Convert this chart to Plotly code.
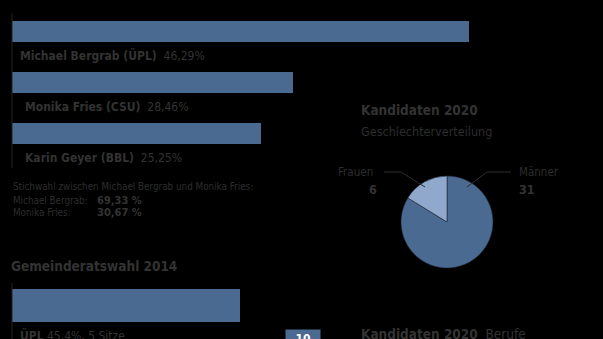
import plotly.graph_objects as go

# ---- data ----
candidates = ["Michael Bergrab (ÜPL)", "Monika Fries (CSU)", "Karin Geyer (BBL)"]
cand_values = [46.29, 28.46, 25.25]
cand_value_labels = ["46,29%", "28,46%", "25,25%"]

runoff_names = ["Michael Bergrab:", "Monika Fries:"]
runoff_values = ["69,33 %", "30,67 %"]

parties_2014 = ["ÜPL"]
party_values_2014 = [45.4]
party_labels_2014 = ["ÜPL 45,4%, 5 Sitze"]
seats_total = ["10"]

gender_labels = ["Männer", "Frauen"]
gender_values = [31, 6]

# ---- styles ----
BAR = "#4b6a91"
LIGHT = "#8fa8cb"
TXT = "#333333"
TXT2 = "#2d2d2d"
FONT = "DejaVu Sans Condensed, Liberation Sans Narrow, Roboto, sans-serif"
W, H = 603, 339


def px(x):
    return x / W


def py(y):
    return 1 - y / H


fig = go.Figure()

fig.add_trace(go.Bar(
    x=cand_values, y=candidates, orientation="h",
    marker=dict(color=BAR, line=dict(width=0)), width=0.41,
    xaxis="x", yaxis="y", hoverinfo="skip", showlegend=False))

fig.add_trace(go.Bar(
    x=party_values_2014, y=parties_2014, orientation="h",
    marker=dict(color=BAR, line=dict(width=0)), width=0.8,
    xaxis="x2", yaxis="y2", hoverinfo="skip", showlegend=False))

fig.add_trace(go.Pie(
    labels=gender_labels, values=gender_values, sort=False,
    direction="clockwise", rotation=0, textinfo="none",
    marker=dict(colors=[BAR, LIGHT], line=dict(color="#1b2636", width=0.6)),
    domain=dict(x=[px(401), px(493)], y=[py(268), py(176)]),
    hoverinfo="skip", showlegend=False))

annotations = []
# candidate labels
xshifts = [6, 11, 11]
for name, lab, xs in zip(candidates, cand_value_labels, xshifts):
    annotations.append(dict(
        x=0, y=name, xref="x", yref="y", xanchor="left", yanchor="middle",
        xshift=xs, yshift=-24, showarrow=False,
        text=f"<b>{name}</b>  {lab}",
        font=dict(family=FONT, size=12, color=TXT)))

annotations.append(dict(
    x=px(11), y=py(186), xref="paper", yref="paper", xanchor="left", yanchor="middle",
    showarrow=False, text="Stichwahl zwischen Michael Bergrab und Monika Fries:",
    font=dict(family=FONT, size=9.8, color=TXT2)))
for i, (n, v) in enumerate(zip(runoff_names, runoff_values)):
    yy = 200 + i * 12
    annotations.append(dict(
        x=px(11), y=py(yy), xref="paper", yref="paper", xanchor="left", yanchor="middle",
        showarrow=False, text=n, font=dict(family=FONT, size=9.8, color=TXT2)))
    annotations.append(dict(
        x=px(95), y=py(yy), xref="paper", yref="paper", xanchor="left", yanchor="middle",
        showarrow=False, text=f"<b>{v}</b>", font=dict(family=FONT, size=11, color=TXT)))

annotations.append(dict(
    x=px(9), y=py(266), xref="paper", yref="paper", xanchor="left", yanchor="middle",
    showarrow=False, text="<b>Gemeinderatswahl 2014</b>",
    font=dict(family=FONT, size=13.5, color=TXT)))

for p, lab in zip(parties_2014, party_labels_2014):
    annotations.append(dict(
        x=0, y=p, xref="x2", yref="y2", xanchor="left", yanchor="middle",
        xshift=6, yshift=-30, showarrow=False,
        text=f"<b>{lab.split(' ', 1)[0]}</b> {lab.split(' ', 1)[1]}",
        font=dict(family=FONT, size=12, color=TXT)))

annotations.append(dict(
    x=px(303), y=py(339), xref="paper", yref="paper", xanchor="center", yanchor="middle",
    showarrow=False, text=f"<b>{seats_total[0]}</b>", bgcolor=BAR, width=32, height=16,
    font=dict(family=FONT, size=12, color="white")))

# pie titles
annotations.append(dict(
    x=px(359), y=py(110), xref="paper", yref="paper", xanchor="left", yanchor="middle",
    showarrow=False, text="<b>Kandidaten 2020</b>",
    font=dict(family=FONT, size=13.5, color=TXT)))
annotations.append(dict(
    x=px(359), y=py(131), xref="paper", yref="paper", xanchor="left", yanchor="middle",
    showarrow=False, text="Geschlechterverteilung",
    font=dict(family=FONT, size=12.5, color=TXT2)))
annotations.append(dict(
    x=px(359), y=py(334), xref="paper", yref="paper", xanchor="left", yanchor="middle",
    showarrow=False, text="<b>Kandidaten 2020</b>  Berufe",
    font=dict(family=FONT, size=13.5, color=TXT)))

# pie labels (Frauen left, Männer right)
annotations.append(dict(
    x=px(375), y=py(172), xref="paper", yref="paper", xanchor="right", yanchor="middle",
    showarrow=False, text=gender_labels[1], font=dict(family=FONT, size=11.5, color=TXT2)))
annotations.append(dict(
    x=px(373), y=py(189), xref="paper", yref="paper", xanchor="center", yanchor="middle",
    showarrow=False, text=f"<b>{gender_values[1]}</b>", font=dict(family=FONT, size=12.5, color=TXT)))
annotations.append(dict(
    x=px(517), y=py(172), xref="paper", yref="paper", xanchor="left", yanchor="middle",
    showarrow=False, text=gender_labels[0], font=dict(family=FONT, size=11.5, color=TXT2)))
annotations.append(dict(
    x=px(517), y=py(189), xref="paper", yref="paper", xanchor="left", yanchor="middle",
    showarrow=False, text=f"<b>{gender_values[0]}</b>", font=dict(family=FONT, size=12.5, color=TXT)))

shapes = [
    dict(type="line", xref="paper", yref="paper", x0=px(12), x1=px(12), y0=py(13), y1=py(168),
         line=dict(color="#222222", width=1)),
    dict(type="line", xref="paper", yref="paper", x0=px(12), x1=px(12), y0=py(283), y1=py(339),
         line=dict(color="#222222", width=1)),
    dict(type="path", xref="paper", yref="paper",
         path=f"M {px(384)} {py(172)} L {px(401)} {py(172)} L {px(425)} {py(187)}",
         line=dict(color="#2c2c2c", width=1)),
    dict(type="path", xref="paper", yref="paper",
         path=f"M {px(511)} {py(172)} L {px(487)} {py(172)} L {px(467)} {py(187)}",
         line=dict(color="#2c2c2c", width=1)),
]

fig.update_layout(
    width=W, height=H, margin=dict(l=0, r=0, t=0, b=0),
    paper_bgcolor="black", plot_bgcolor="black",
    xaxis=dict(domain=[px(12), 1], range=[0, 591 / 9.87], visible=False, fixedrange=True),
    yaxis=dict(domain=[py(159), py(6)], range=[2.5, -0.5], visible=False,
               categoryorder="array", categoryarray=candidates, fixedrange=True),
    xaxis2=dict(domain=[px(12), 1], range=[0, 591 / 5.02], visible=False, anchor="y2"),
    yaxis2=dict(domain=[py(326), py(285)], range=[0.5, -0.5], visible=False, anchor="x2"),
    annotations=annotations, shapes=shapes,
    bargap=0,
)

fig.write_html("out.html")
